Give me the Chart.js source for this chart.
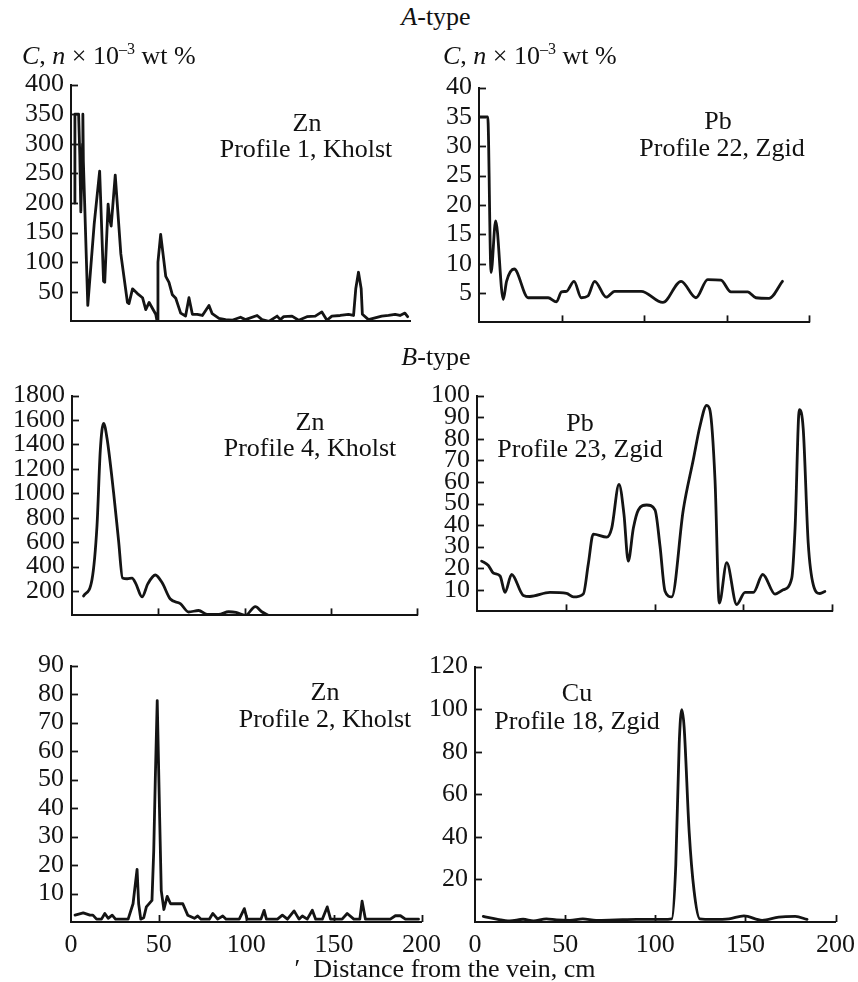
<!DOCTYPE html>
<html>
<head>
<meta charset="utf-8">
<script src="https://cdn.jsdelivr.net/npm/chart.js@4"></script>
<style>
  html, body { margin: 0; padding: 0; background: #fff; }
  #page { position: relative; width: 858px; height: 982px; overflow: hidden; font-family: "Liberation Serif", "DejaVu Serif", serif; color: #111; }
  #page canvas { position: absolute; }
  .t { position: absolute; transform: translate(-50%, -50%); white-space: nowrap; font-size: 26px; line-height: 1; text-align: center; }
  .unit { position: absolute; white-space: nowrap; font-size: 26px; line-height: 1; }
  .unit sup { font-size: 16px; vertical-align: 10px; }
</style>
</head>
<body>
<div id="page">
  <canvas id="p1"></canvas>
  <canvas id="p2"></canvas>
  <canvas id="p3"></canvas>
  <canvas id="p4"></canvas>
  <canvas id="p5"></canvas>
  <canvas id="p6"></canvas>

  <div class="t" style="left:436px; top:17px;"><i>A</i>-type</div>
  <div class="t" style="left:436px; top:357px;"><i>B</i>-type</div>
  <div class="unit" style="left:22px; top:41px;"><i>C</i>, <i>n</i> × 10<sup>–3</sup> wt %</div>
  <div class="unit" style="left:443px; top:41px;"><i>C</i>, <i>n</i> × 10<sup>–3</sup> wt %</div>

  <div class="t" style="left:307px; top:123px;">Zn</div>
  <div class="t" style="left:306px; top:149px;">Profile 1, Kholst</div>
  <div class="t" style="left:718px; top:121px;">Pb</div>
  <div class="t" style="left:722px; top:148px;">Profile 22, Zgid</div>
  <div class="t" style="left:310px; top:422px;">Zn</div>
  <div class="t" style="left:310px; top:448px;">Profile 4, Kholst</div>
  <div class="t" style="left:580px; top:423px;">Pb</div>
  <div class="t" style="left:580px; top:449px;">Profile 23, Zgid</div>
  <div class="t" style="left:325px; top:692px;">Zn</div>
  <div class="t" style="left:325px; top:719px;">Profile 2, Kholst</div>
  <div class="t" style="left:577px; top:693px;">Cu</div>
  <div class="t" style="left:577px; top:721px;">Profile 18, Zgid</div>
  <div class="t" style="left:445px; top:969px;">′&nbsp;&nbsp;Distance from the vein, cm</div>
</div>

<script>
// distance from the vein (cm) and concentration (n x 10^-3 wt %)

// A-type, Zn, profile 1, Kholst
const p1Dist = [2.3, 2.3, 4.5, 5.2, 5.8, 6.8, 7.0, 7.3, 9.9, 13.7, 16.9, 19.2, 19.9, 21.9, 22.7, 23.7, 26.1, 29.4, 33.3, 34.2,
  36.3, 39.2, 42.2, 44.1, 46.1, 50.0, 50.8, 51.3, 52.9, 55.9, 57.8, 59.8, 61.8, 64.7, 67.6, 69.6, 71.6, 74.5, 77.5, 81.4,
  83.3, 87.3, 91.2, 95.0, 100, 102.9, 109.8, 112.7, 116.7, 121.6, 123.5, 125.5, 130.4, 134.3, 139.2, 144.1, 148, 151, 153.9, 158.8,
  163.7, 166.7, 168, 169.6, 171.2, 171.9, 175.5, 179.4, 183.3, 187.3, 191.2, 194.1, 197, 198.6];
const p1Zn = [200, 350, 350, 280, 185, 300, 350, 270, 27, 165, 254, 68, 66, 198, 175, 161, 247, 114, 32, 30,
  55, 47, 40, 20, 32, 12, 0, 100, 147, 76, 66, 45, 39, 14, 9, 40, 12, 12, 10, 27,
  13, 5, 3, 2, 7, 3, 10, 3, 0, 9, 3, 8, 9, 2, 8, 9, 16, 2, 9, 10,
  12, 10, 55, 83, 55, 12, 3, 6, 9, 10, 12, 10, 14, 8];

// A-type, Pb, profile 22, Zgid
const p2Dist = [0.5, 5.3, 7.3, 10.1, 14.7, 16.7, 21.3, 29.8, 41.9, 46.9, 50, 53, 57.6, 62, 66, 70.1, 77.1, 82.2, 98.3, 111.4,
  122.5, 131.5, 138.6, 146.6, 152.7, 162.8, 167.8, 175.8, 183.9];
const p2Pb = [35, 35, 8.5, 17.3, 3.9, 7.0, 9.1, 4.2, 4.2, 3.5, 5.2, 5.3, 7.0, 4.2, 4.5, 7.0, 4.3, 5.3, 5.3, 3.4,
  7.0, 4.2, 7.3, 7.2, 5.2, 5.2, 4.2, 4.1, 7.0];

// B-type, Zn, profile 4, Kholst
const p3Dist = [6.7, 11.6, 14.5, 16.4, 18.3, 20.3, 24.1, 27, 29.3, 32, 34.8, 37, 40.6, 44, 48.3, 52.2, 57, 62.8, 67.6, 73.4,
  78.3, 85, 90.8, 95, 100.5, 106.3, 110, 114];
const p3Zn = [159, 294, 736, 1351, 1573, 1450, 1007, 613, 306, 300, 306, 260, 151, 260, 331, 269, 134, 97, 28, 40,
  8, 8, 30, 25, 0, 72, 30, 0];

// B-type, Pb, profile 23, Zgid
const p4Dist = [2.6, 6.4, 9.2, 13, 15.8, 19.5, 26.1, 29.8, 41.1, 50.5, 54.3, 59.9, 62.7, 65.5, 73.1, 75.9, 80, 82.8, 85.2, 88.1,
  90.9, 95.6, 100.3, 103.1, 105.9, 109.7, 116.2, 121.9, 125.6, 129.4, 131.3, 134.1, 136.5, 140.7, 146.3, 151, 155.7, 161, 167.9, 172.5,
  177.3, 179.2, 181.6, 183.8, 186.6, 189.5, 193.2, 196];
const p4Pb = [23.3, 21.3, 17.8, 16.4, 8.8, 17.1, 7.4, 6.9, 8.8, 8.3, 6.7, 8.1, 22, 35.8, 34.4, 38.6, 58.8, 45, 23.3, 38.6,
  47, 49.3, 47, 30.3, 9.5, 6.7, 47, 70.5, 85.8, 95.5, 93, 60.8, 3.9, 22.6, 3.2, 8.8, 8.8, 17.1, 8, 10,
  15.3, 38.6, 93.5, 84.5, 31.7, 12.2, 8.3, 9.2];

// B-type, Zn, profile 2, Kholst
const p5Dist = [2.3, 7, 10.8, 12.5, 14.6, 17.4, 19.3, 21.2, 23.5, 25.4, 32.6, 35.4, 36.7, 37.7, 38.6, 39.8, 41.5, 43, 46.2, 47.2,
  48.1, 49.2, 50.6, 51.5, 53, 54.9, 56.8, 63.8, 66.6, 70.4, 72.3, 74.2, 78.9, 80.9, 83.7, 86.6, 88.5, 96, 98.9, 100.5,
  108.4, 110.2, 111.5, 117.8, 120.6, 123.5, 127.3, 130.1, 132, 134.8, 137.7, 139.6, 143.4, 146.2, 148.1, 154.7, 157.6, 161.4, 164.8, 166.1,
  168, 182.2, 185.1, 188, 190.8, 198.3];
const p5Zn = [2.4, 3.2, 2.4, 2.4, 1, 1, 3, 1.3, 2.4, 1, 1, 6.4, 13.3, 18.5, 6.4, 1, 1.5, 5.3, 7.6, 24.8,
  50, 77.7, 36.3, 11, 4.4, 9, 6.4, 6.4, 2.4, 1.3, 2.1, 1, 1, 3, 1, 2.1, 1, 1, 4.7, 1,
  1, 4.1, 1, 1, 2.4, 1, 3.9, 1, 2.1, 1, 4.1, 1, 1, 5.3, 1, 1, 3, 1, 1, 7.3,
  1, 1, 2.2, 2.2, 1, 1];

// B-type, Cu, profile 18, Zgid
const p6Dist = [4.6, 12, 19.3, 26.7, 32.4, 39.6, 45.2, 52.6, 59.8, 67.2, 78.2, 89.7, 104, 109.2, 111.4, 113.3, 114.7, 116, 118.8, 121.5,
  124.7, 131.9, 140.9, 149.2, 159.3, 168.5, 177.7, 184.2];
const p6Cu = [2.6, 1.3, 0.5, 1.3, 0.5, 1.5, 1, 0.8, 1.5, 0.8, 1, 1.2, 1.2, 1.5, 27, 84, 99.8, 91.8, 42.6, 14.9,
  1.5, 1.2, 1.5, 2.9, 0.8, 2.3, 2.6, 1.2];

const xTickLabels = [0, 50, 100, 150, 200];

const INK = "#141414";
const FONT = { family: "'Liberation Serif', 'DejaVu Serif', serif", size: 26 };
const Y_W = 70, PAD_T = 18, PAD_R = 26;

// short tick marks drawn inside the frame, like the original figure
const innerTicks = {
  id: "innerTicks",
  afterDraw(chart, args, opts) {
    const { ctx, chartArea, scales } = chart;
    ctx.save();
    ctx.strokeStyle = INK;
    ctx.lineWidth = 1.8;
    scales.y.ticks.forEach(t => {
      if (t.value === 0) return;
      const py = Math.round(scales.y.getPixelForValue(t.value)) + 0.5;
      ctx.beginPath();
      ctx.moveTo(chartArea.left, py);
      ctx.lineTo(chartArea.left + 7, py);
      ctx.stroke();
    });
    if (opts.xTicks) {
      scales.x.ticks.forEach(t => {
        if (t.value === 0) return;
        const px = Math.round(scales.x.getPixelForValue(t.value)) + 0.5;
        ctx.beginPath();
        ctx.moveTo(px, chartArea.bottom);
        ctx.lineTo(px, chartArea.bottom - 7);
        ctx.stroke();
      });
    }
    ctx.restore();
  }
};

function makePanel(id, box, xs, ys, yMax, yStep, opts) {
  const bottomLabels = opts.bottomLabels || false;
  const xh = bottomLabels ? 36 : 3;
  const canvas = document.getElementById(id);
  const w = Y_W + (box.right - box.left) + PAD_R;
  const h = PAD_T + (box.bottom - box.top) + xh;
  canvas.width = w;
  canvas.height = h;
  canvas.style.left = (box.left - Y_W) + "px";
  canvas.style.top = (box.top - PAD_T) + "px";
  canvas.style.width = w + "px";
  canvas.style.height = h + "px";

  const points = xs.map((x, i) => ({ x: x, y: ys[i] }));

  return new Chart(canvas, {
    type: "line",
    data: {
      datasets: [{
        data: points,
        borderColor: INK,
        borderWidth: 2.8,
        pointRadius: 0,
        fill: false,
        tension: opts.smooth ? 0.4 : 0,
        cubicInterpolationMode: opts.smooth ? "monotone" : "default",
        borderJoinStyle: "round",
        borderCapStyle: "round"
      }]
    },
    options: {
      responsive: false,
      animation: false,
      devicePixelRatio: 1,
      layout: { padding: { top: PAD_T, right: PAD_R, left: 0, bottom: 0 } },
      plugins: {
        legend: { display: false },
        tooltip: { enabled: false },
        innerTicks: { xTicks: opts.xTicks !== false }
      },
      scales: {
        x: {
          type: "linear",
          min: 0,
          max: 200,
          afterFit: s => { s.height = xh; },
          afterBuildTicks: s => { s.ticks = xTickLabels.map(v => ({ value: v })); },
          grid: { display: false, drawTicks: false },
          border: { display: true, color: INK, width: 2 },
          ticks: { display: bottomLabels, autoSkip: false, color: INK, font: FONT, padding: 8, maxRotation: 0 }
        },
        y: {
          min: 0,
          max: yMax,
          afterFit: s => { s.width = Y_W; },
          grid: { display: false, drawTicks: false },
          border: { display: true, color: INK, width: 2 },
          ticks: {
            stepSize: yStep,
            autoSkip: false,
            color: INK,
            font: FONT,
            padding: 7,
            callback: v => (v === 0 ? "" : v)
          }
        }
      }
    },
    plugins: [innerTicks]
  });
}

makePanel("p1", { left: 71, top: 80, right: 410, bottom: 341 }, p1Dist, p1Zn, 400, 50, { smooth: false, xTicks: false });
makePanel("p2", { left: 479, top: 83, right: 809, bottom: 342 }, p2Dist, p2Pb, 40, 5, { smooth: true });
makePanel("p3", { left: 72, top: 391, right: 417, bottom: 635 }, p3Dist, p3Zn, 1800, 200, { smooth: true });
makePanel("p4", { left: 477, top: 391, right: 832, bottom: 631 }, p4Dist, p4Pb, 100, 10, { smooth: true });
makePanel("p5", { left: 71, top: 661, right: 423, bottom: 922 }, p5Dist, p5Zn, 90, 10, { smooth: false, bottomLabels: true });
makePanel("p6", { left: 475, top: 662, right: 837, bottom: 922 }, p6Dist, p6Cu, 120, 20, { smooth: true, bottomLabels: true });
</script>
</body>
</html>
